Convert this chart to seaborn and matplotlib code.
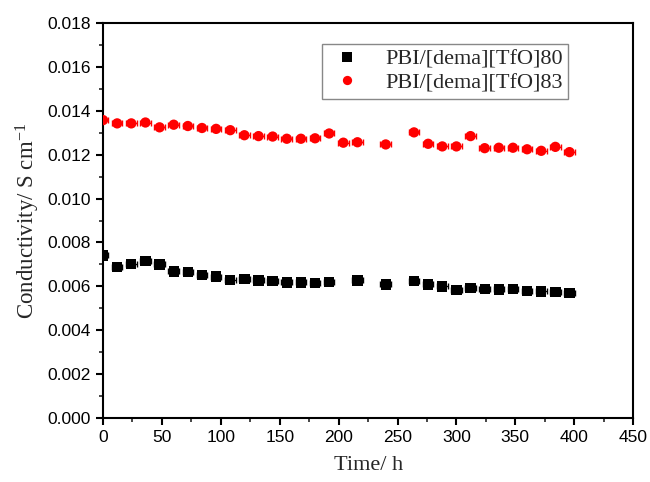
import numpy as np
import pandas as pd
import matplotlib
matplotlib.use("Agg")
import matplotlib.pyplot as plt
import seaborn as sns
from matplotlib.ticker import MultipleLocator

# Data
time_80 = [0, 12, 24, 36, 48, 60, 72, 84, 96, 108, 120, 132, 144, 156, 168, 180, 192,
           216, 240, 264, 276, 288, 300, 312, 324, 336, 348, 360, 372, 384, 396]
cond_80 = [0.00741, 0.00688, 0.00703, 0.00715, 0.00700, 0.00668, 0.00665, 0.00653, 0.00645,
           0.00630, 0.00633, 0.00627, 0.00624, 0.00618, 0.00618, 0.00615, 0.00620,
           0.00627, 0.00609, 0.00623, 0.00609, 0.00600, 0.00582, 0.00594, 0.00588,
           0.00586, 0.00589, 0.00580, 0.00577, 0.00574, 0.00571]
err_80 = [0.00006, 0.00004, 0.00004, 0.00005, 0.00004, 0.00004, 0.00004, 0.00004, 0.00003,
          0.00004, 0.00003, 0.00003, 0.00003, 0.00003, 0.00003, 0.00003, 0.00003,
          0.00008, 0.00004, 0.00008, 0.00004, 0.00004, 0.00004, 0.00003, 0.00003,
          0.00003, 0.00003, 0.00003, 0.00003, 0.00003, 0.00003]

time_83 = [0, 12, 24, 36, 48, 60, 72, 84, 96, 108, 120, 132, 144, 156, 168, 180, 192, 204,
           216, 240, 264, 276, 288, 300, 312, 324, 336, 348, 360, 372, 384, 396]
cond_83 = [0.01358, 0.01343, 0.01343, 0.01347, 0.01325, 0.01337, 0.01331, 0.01322, 0.01318,
           0.01312, 0.01289, 0.01285, 0.01283, 0.01273, 0.01273, 0.01275, 0.01297, 0.01255,
           0.01257, 0.01247, 0.01302, 0.01250, 0.01238, 0.01238, 0.01285, 0.01230,
           0.01232, 0.01232, 0.01225, 0.01218, 0.01236, 0.01212]
err_83 = [0.00004] * len(time_83)
err_83[6] = 0.00007
err_83[23] = 0.00008

labels = ["PBI/[dema][TfO]80", "PBI/[dema][TfO]83"]
x_ticks = [0, 50, 100, 150, 200, 250, 300, 350, 400, 450]

df = pd.DataFrame({
    "time": time_80 + time_83,
    "cond": cond_80 + cond_83,
    "sample": [labels[0]] * len(time_80) + [labels[1]] * len(time_83),
})

sns.set_style("ticks")
plt.rcParams["font.family"] = ["Liberation Sans", "DejaVu Sans"]
plt.rcParams["mathtext.fontset"] = "custom"
plt.rcParams["mathtext.rm"] = "Liberation Serif"
plt.rcParams["mathtext.it"] = "Liberation Serif:italic"
plt.rcParams["mathtext.default"] = "regular"

fig = plt.figure(figsize=(6.5, 4.82), dpi=100)
ax = fig.add_axes([0.1585, 0.1328, 0.8155, 0.8192])

ax.errorbar(time_80, cond_80, xerr=4.5, yerr=err_80, fmt="none", ecolor="black",
            elinewidth=1.0, capsize=2, capthick=1.0, zorder=2)
ax.errorbar(time_83, cond_83, xerr=4.5, yerr=err_83, fmt="none", ecolor="red",
            elinewidth=1.0, capsize=2, capthick=1.0, zorder=2)

sns.scatterplot(data=df, x="time", y="cond", hue="sample", style="sample",
                palette={labels[0]: "black", labels[1]: "red"},
                markers={labels[0]: "s", labels[1]: "o"},
                s=55, linewidth=0, ax=ax, zorder=3)

ax.set_xlim(0, 450)
ax.set_ylim(0, 0.018)
ax.set_xticks(x_ticks)
ax.xaxis.set_minor_locator(MultipleLocator(25))
ax.yaxis.set_major_locator(MultipleLocator(0.002))
ax.yaxis.set_minor_locator(MultipleLocator(0.001))
ax.yaxis.set_major_formatter(matplotlib.ticker.FormatStrFormatter("%.3f"))

for s in ax.spines.values():
    s.set_linewidth(1.5)
    s.set_color("black")
ax.tick_params(which="major", direction="out", length=5, width=1.5, labelsize=12.5,
               colors="black", top=False, right=False)
ax.tick_params(which="minor", direction="out", length=3, width=1.2,
               top=False, right=False)

ax.set_xlabel("Time/ h", fontfamily="Liberation Serif", fontsize=16, labelpad=8)
ax.set_ylabel("Conductivity/ S cm$^{-1}$", fontfamily="Liberation Serif", fontsize=16.5,
              labelpad=4)

leg = ax.legend(loc="upper left", bbox_to_anchor=(0.392, 0.976), frameon=True,
                fancybox=False, edgecolor="#888888", framealpha=1,
                prop={"family": "Liberation Serif", "size": 16},
                handletextpad=0.8, borderpad=0.25, labelspacing=0.12, markerscale=0.9,
                handlelength=1.8)
leg.get_frame().set_linewidth(1.0)

fig.savefig("out.png", dpi=100)
